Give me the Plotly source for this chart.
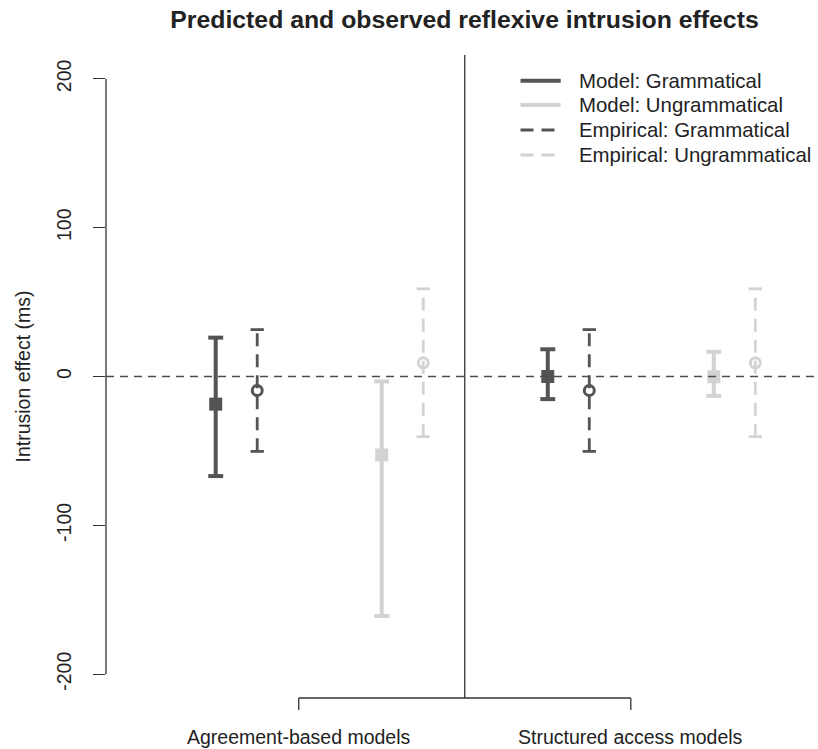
import plotly.graph_objects as go

# ---------------- data ----------------
groups = ["Agreement-based models", "Structured access models"]
group_pos = [2, 10]

model_gram_x = [0, 8]
model_gram_mean = [-18.6, 0.0]
model_gram_lo = [-66.9, -15.2]
model_gram_hi = [26.1, 18.3]

emp_gram_x = [1, 9]
emp_gram_mean = [-9.4, -9.4]
emp_gram_lo = [-50.3, -50.3]
emp_gram_hi = [31.5, 31.5]

model_ungram_x = [4, 12]
model_ungram_mean = [-52.7, -0.2]
model_ungram_lo = [-160.9, -13.0]
model_ungram_hi = [-3.3, 16.6]

emp_ungram_x = [5, 13]
emp_ungram_mean = [9.2, 9.2]
emp_ungram_lo = [-40.4, -40.4]
emp_ungram_hi = [58.9, 58.9]

y_ticks = [-200, -100, 0, 100, 200]
divider_x = 6

legend_labels = ["Model: Grammatical", "Model: Ungrammatical",
                 "Empirical: Grammatical", "Empirical: Ungrammatical"]

# ---------------- styles ----------------
DARK = "#545454"
LIGHT = "#d3d3d3"
AXIS = "#333333"
TXT = "#222222"
FONT = "Liberation Sans, Arial, sans-serif"

W, H = 818, 749
ML, MR, MT, MB = 106, 0, 55, 51
XR = [-2.643, 14.51]
YR = [-216, 216]

fig = go.Figure()


def seg_trace(xs, lo, hi, color, width, dash, cap):
    vx, vy, cx, cy = [], [], [], []
    for x, l, h in zip(xs, lo, hi):
        vx += [x, x, None]
        vy += [l, h, None]
        cx += [x - cap, x + cap, None, x - cap, x + cap, None]
        cy += [h, h, None, l, l, None]
    fig.add_trace(go.Scatter(x=vx, y=vy, mode="lines", showlegend=False,
                             hoverinfo="skip",
                             line=dict(color=color, width=width, dash=dash)))
    fig.add_trace(go.Scatter(x=cx, y=cy, mode="lines", showlegend=False,
                             hoverinfo="skip",
                             line=dict(color=color, width=width)))


series = [
    (model_gram_x, model_gram_mean, model_gram_lo, model_gram_hi, DARK, 4, "solid", 0.18, "square"),
    (emp_gram_x, emp_gram_mean, emp_gram_lo, emp_gram_hi, DARK, 2.8, "13px,8px", 0.16, "circle-open"),
    (model_ungram_x, model_ungram_mean, model_ungram_lo, model_ungram_hi, LIGHT, 4, "solid", 0.18, "square"),
    (emp_ungram_x, emp_ungram_mean, emp_ungram_lo, emp_ungram_hi, LIGHT, 2.8, "13px,8px", 0.16, "circle-open"),
]

for xs, m, lo, hi, col, w, dash, cap, sym in series:
    seg_trace(xs, lo, hi, col, w, dash, cap)
    if sym == "square":
        mk = dict(symbol="square", size=13, color=col, line=dict(width=0))
    else:
        mk = dict(symbol="circle-open", size=10, color=col, line=dict(width=3, color=col))
    fig.add_trace(go.Scatter(x=xs, y=m, mode="markers", marker=mk,
                             showlegend=False))

shapes = []
# zero reference line
shapes.append(dict(type="line", xref="paper", yref="y", x0=0, x1=1, y0=0, y1=0,
                   line=dict(color="#4d4d4d", width=1.6, dash="8px,6px"), layer="above"))
# vertical divider
shapes.append(dict(type="line", xref="x", yref="paper", x0=divider_x, x1=divider_x,
                   y0=0, y1=1, line=dict(color=AXIS, width=1.3), layer="above"))
# y axis line
shapes.append(dict(type="line", xref="paper", yref="y", x0=0, x1=0,
                   y0=min(y_ticks), y1=max(y_ticks), line=dict(color=AXIS, width=1.3)))
# bottom bracket
ph = H - MT - MB
tick_len = 12 / ph
shapes.append(dict(type="line", xref="x", yref="paper", x0=group_pos[0], x1=group_pos[-1],
                   y0=0, y1=0, line=dict(color=AXIS, width=1.3)))
for gp in group_pos:
    shapes.append(dict(type="line", xref="x", yref="paper", x0=gp, x1=gp,
                       y0=0, y1=-tick_len, line=dict(color=AXIS, width=1.3)))

annotations = []
for g, gp in zip(groups, group_pos):
    annotations.append(dict(text=g, x=gp, xref="x", y=-(737 - (H - MB)) / ph, yref="paper",
                            showarrow=False, xanchor="center", yanchor="middle",
                            font=dict(size=19.5, color=TXT, family=FONT)))

# y axis title
pw = W - ML - MR
annotations.append(dict(text="Intrusion effect (ms)", xref="paper", yref="paper",
                        x=(22 - ML) / pw, y=0.5, textangle=-90, showarrow=False,
                        xanchor="center", yanchor="middle",
                        font=dict(size=19.5, color=TXT, family=FONT)))

# manual legend (R style, top right)
leg_colors = [LIGHT if "Ungram" in l else DARK for l in legend_labels]
leg_dash = ["13px,8px" if l.startswith("Empirical") else "solid" for l in legend_labels]
leg_width = [2.8 if l.startswith("Empirical") else 4 for l in legend_labels]
leg_y_px = [80.7, 105, 130, 155]
for lab, col, d, lw, ypx in zip(legend_labels, leg_colors, leg_dash, leg_width, leg_y_px):
    yp = (H - MB - ypx) / ph
    shapes.append(dict(type="line", xref="paper", yref="paper",
                       x0=(520.5 - ML) / pw, x1=(560.7 - ML) / pw, y0=yp, y1=yp,
                       line=dict(color=col, width=lw, dash=d)))
    annotations.append(dict(text=lab, xref="paper", yref="paper", x=(577 - ML) / pw, y=yp,
                            xanchor="left", yanchor="middle", showarrow=False,
                            font=dict(size=20.4, color=TXT, family=FONT)))

fig.update_layout(
    width=W, height=H,
    margin=dict(l=ML, r=MR, t=MT, b=MB, pad=0),
    paper_bgcolor="white", plot_bgcolor="white",
    title=dict(text="<b>Predicted and observed reflexive intrusion effects</b>",
               x=(464.5) / W, xanchor="center", y=1 - 19.5 / H, yanchor="middle",
               font=dict(size=24.8, color=TXT, family=FONT)),
    xaxis=dict(range=XR, showgrid=False, zeroline=False, showline=False,
               showticklabels=False, ticks=""),
    yaxis=dict(range=YR, showgrid=False, zeroline=False, showline=False,
               tickvals=y_ticks, ticktext=[str(v) for v in y_ticks],
               ticks="outside", ticklen=12, tickwidth=1.3, tickcolor=AXIS,
               tickangle=-90, ticklabelstandoff=14,
               tickfont=dict(size=19.5, color=TXT, family=FONT)),
    shapes=shapes, annotations=annotations, showlegend=False,
)

fig.write_html("out.html", config={"displayModeBar": False},
               post_script="document.body.style.margin='0';")
